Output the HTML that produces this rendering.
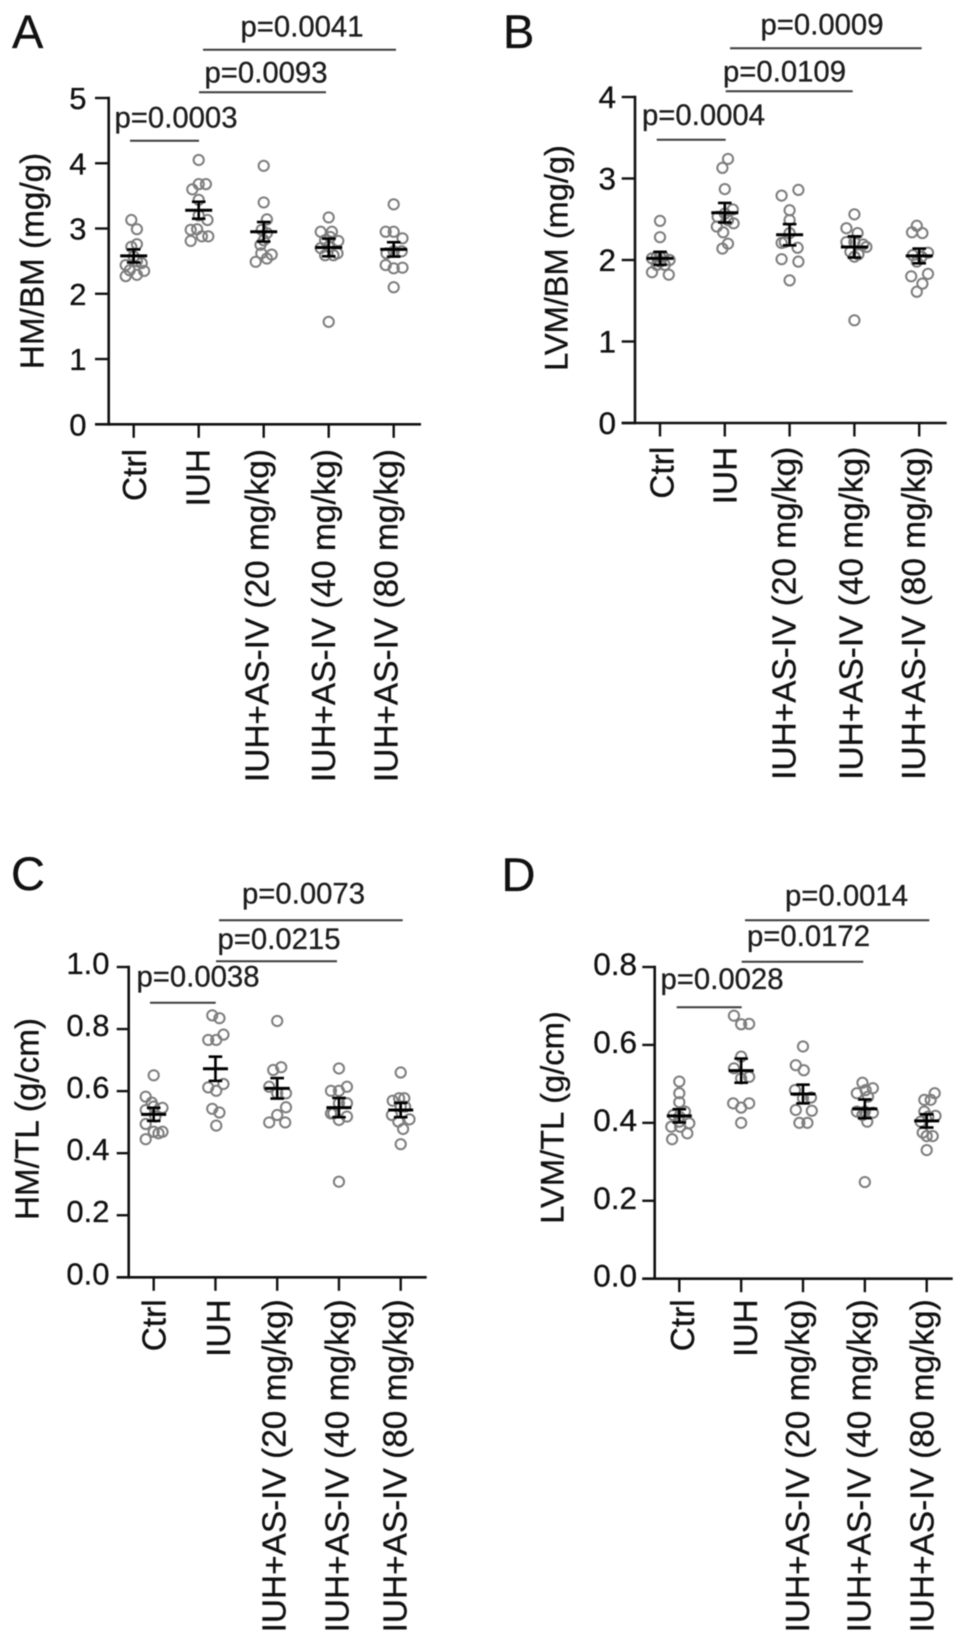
<!DOCTYPE html>
<html lang="en">
<head>
<meta charset="utf-8">
<title>Heart mass ratios by treatment group</title>
<style>
html,body{margin:0;padding:0;background:#fff;width:969px;height:1642px;overflow:hidden}
svg{display:block;filter:blur(0.55px)}
text{font-family:"Liberation Sans",Arial,sans-serif;fill:#111;stroke:#111;stroke-width:.3px}
.letter{font-size:47px}
.ytitle{font-size:33.3px;text-anchor:middle}
.p{font-size:29.3px;fill:#1c1c1c;stroke:#1c1c1c}
.br{stroke:#3c3c3c;stroke-width:2;fill:none}
.cat{font-size:33.4px;text-anchor:end}
.tick{text-anchor:end}
</style>
</head>
<body>
<svg id="figure" width="969" height="1642" viewBox="0 0 969 1642" xmlns="http://www.w3.org/2000/svg">
  <rect width="969" height="1642" fill="#fff"/>

  <g id="panel-a">
    <text class="letter" x="12" y="48">A</text>
    <text class="ytitle" transform="translate(43.5,261) rotate(-90)">HM/BM (mg/g)</text>
    <text class="p" x="114.5" y="127.5">p=0.0003</text>
    <line class="br" x1="130" x2="199" y1="140.7" y2="140.7"/>
    <text class="p" x="204.5" y="82.7">p=0.0093</text>
    <line class="br" x1="199" x2="326" y1="92.3" y2="92.3"/>
    <text class="p" x="240.5" y="36.7">p=0.0041</text>
    <line class="br" x1="203" x2="396" y1="49.7" y2="49.7"/>
  </g>

  <g id="panel-b">
    <text class="letter" x="503" y="48">B</text>
    <text class="ytitle" style="font-size:32.6px" transform="translate(567.3,258) rotate(-90)">LVM/BM (mg/g)</text>
    <text class="p" x="642" y="125">p=0.0004</text>
    <line class="br" x1="656.7" x2="725.7" y1="139.7" y2="139.7"/>
    <text class="p" x="723" y="81.7">p=0.0109</text>
    <line class="br" x1="725.7" x2="852.7" y1="91.3" y2="91.3"/>
    <text class="p" x="760.5" y="34.3">p=0.0009</text>
    <line class="br" x1="730" x2="921.7" y1="48.3" y2="48.3"/>
  </g>

  <g id="panel-c">
    <text class="letter" x="11" y="890">C</text>
    <text class="ytitle" transform="translate(38.3,1119) rotate(-90)">HM/TL (g/cm)</text>
    <text class="p" x="136.5" y="986.7">p=0.0038</text>
    <line class="br" x1="150" x2="215.7" y1="1002.7" y2="1002.7"/>
    <text class="p" x="217.5" y="949">p=0.0215</text>
    <line class="br" x1="216" x2="337" y1="961.3" y2="961.3"/>
    <text class="p" x="242" y="903.3">p=0.0073</text>
    <line class="br" x1="219" x2="402.7" y1="920.3" y2="920.3"/>
  </g>

  <g id="panel-d">
    <text class="letter" x="501.5" y="891">D</text>
    <text class="ytitle" style="font-size:32.7px" transform="translate(563.3,1117.5) rotate(-90)">LVM/TL (g/cm)</text>
    <text class="p" x="660.5" y="989">p=0.0028</text>
    <line class="br" x1="676.7" x2="741.7" y1="1007.3" y2="1007.3"/>
    <text class="p" x="747" y="946">p=0.0172</text>
    <line class="br" x1="741.7" x2="863.3" y1="961.7" y2="961.7"/>
    <text class="p" x="785" y="905.7">p=0.0014</text>
    <line class="br" x1="745" x2="929.3" y1="920.3" y2="920.3"/>
  </g>
</svg>

<script>
// ---------- data ----------
const categories = ["Ctrl", "IUH", "IUH+AS-IV (20 mg/kg)", "IUH+AS-IV (40 mg/kg)", "IUH+AS-IV (80 mg/kg)"];

const panelATicks = [0, 1, 2, 3, 4, 5];
const panelAMeans = [2.58, 3.28, 2.95, 2.71, 2.68];
const panelASems = [0.10, 0.13, 0.15, 0.135, 0.11];
const panelAValues = [
  [3.13, 2.99, 2.76, 2.72, 2.57, 2.50, 2.47, 2.44, 2.36, 2.35, 2.29, 2.27],
  [4.05, 3.68, 3.68, 3.60, 3.44, 3.20, 3.13, 2.99, 2.98, 2.88, 2.88, 2.81],
  [3.96, 3.40, 3.14, 2.98, 2.93, 2.82, 2.75, 2.62, 2.60, 2.54, 2.49],
  [3.17, 2.95, 2.95, 2.87, 2.82, 2.81, 2.72, 2.70, 2.62, 2.59, 2.59, 1.57],
  [3.37, 2.95, 2.95, 2.85, 2.65, 2.65, 2.62, 2.44, 2.40, 2.39, 2.10]
];
const panelASwarm = [
  [-.3, .4, .4, -.3, 0, .4, 1, -1, -.5, 1.3, .4, -1],
  [0, .9, 0, -.8, 0, 0, 1.1, -.2, -1, .4, 1.2, -1],
  [0, 0, .4, -.25, .4, 0, -.4, -.3, 1, .4, -1],
  [0, -1, .4, .2, -.45, 1.2, 0, -1, 1.1, -.45, .6, 0],
  [0, -1, 0, 1.1, 0, 1, -.9, -1, 1.1, 0, 0]
];

const panelBTicks = [0, 1, 2, 3, 4];
const panelBMeans = [2.02, 2.58, 2.31, 2.16, 2.05];
const panelBSems = [0.08, 0.12, 0.13, 0.13, 0.09];
const panelBValues = [
  [2.48, 2.28, 2.04, 2.04, 2.04, 2.02, 2.00, 1.98, 1.94, 1.94, 1.85, 1.82],
  [3.24, 3.13, 2.87, 2.62, 2.57, 2.53, 2.49, 2.45, 2.41, 2.34, 2.20, 2.14],
  [2.86, 2.79, 2.61, 2.49, 2.33, 2.22, 2.21, 2.15, 2.01, 1.98, 1.75],
  [2.56, 2.39, 2.33, 2.22, 2.22, 2.19, 2.16, 2.10, 2.07, 2.04, 1.26],
  [2.42, 2.34, 2.33, 2.09, 2.06, 2.04, 1.98, 1.83, 1.80, 1.71, 1.61]
];
const panelBSwarm = [
  [0, 0, -.4, .4, 0, -1, 1.2, 0, -.4, .6, -1, 1.1],
  [.4, -.3, 0, 1, 0, -.9, .4, 1.1, -1, -.2, .4, -.3],
  [1.1, -1, 0, 0, 0, -.6, -1, 1, -1, 1.1, 0],
  [0, -1, .4, -1, 0, 1.1, 1.5, -.5, .5, 0, 0],
  [-.3, -.9, .4, 1.1, -.8, .3, -.3, 1.1, -1, .4, -.3]
];

const panelCTicks = [0, 0.2, 0.4, 0.6, 0.8, 1.0];
const panelCMeans = [0.525, 0.672, 0.609, 0.547, 0.539];
const panelCSems = [0.021, 0.039, 0.033, 0.031, 0.023];
const panelCValues = [
  [0.651, 0.582, 0.563, 0.550, 0.546, 0.539, 0.518, 0.494, 0.469, 0.469, 0.464, 0.445],
  [0.844, 0.835, 0.782, 0.765, 0.765, 0.623, 0.612, 0.601, 0.543, 0.531, 0.489],
  [0.826, 0.677, 0.668, 0.614, 0.593, 0.593, 0.548, 0.523, 0.499, 0.499],
  [0.673, 0.614, 0.601, 0.601, 0.561, 0.561, 0.528, 0.528, 0.518, 0.507, 0.308],
  [0.660, 0.577, 0.577, 0.569, 0.550, 0.550, 0.523, 0.509, 0.502, 0.478, 0.429]
];
const panelCSwarm = [
  [0, -1, -.25, 0, 1.1, -1, .2, -1, 0, 1.1, .6, -1],
  [-.4, .5, 1, -.9, .1, 1, -.9, .1, -.4, .5, .1],
  [0, .5, -.5, -1, 0, 1.1, 1.1, 0, -1, 1],
  [0, 1, -1, 0, 1, 0, -1, -.7, 1, 0, 0],
  [0, -.2, .45, -1, 0, .55, -1.1, 1.1, -.3, .3, 0]
];

const panelDTicks = [0, 0.2, 0.4, 0.6, 0.8];
const panelDMeans = [0.418, 0.534, 0.474, 0.436, 0.405];
const panelDSems = [0.017, 0.031, 0.024, 0.024, 0.017];
const panelDValues = [
  [0.506, 0.476, 0.453, 0.429, 0.420, 0.416, 0.403, 0.399, 0.390, 0.390, 0.373, 0.358],
  [0.675, 0.654, 0.653, 0.570, 0.540, 0.518, 0.514, 0.450, 0.450, 0.439, 0.400],
  [0.596, 0.548, 0.535, 0.484, 0.465, 0.463, 0.433, 0.431, 0.400, 0.400],
  [0.503, 0.489, 0.484, 0.476, 0.467, 0.429, 0.429, 0.426, 0.420, 0.403, 0.248],
  [0.476, 0.459, 0.459, 0.429, 0.418, 0.416, 0.403, 0.375, 0.366, 0.366, 0.330]
];
const panelDSwarm = [
  [0, 0, 0, .7, -.75, 0, 0, 1.25, -1, .1, 1, -.9],
  [-.9, 1, 0, 0, -.9, 1, 0, -1, 1, 0, 0],
  [0, -.9, .1, -1, 1, 0, -.9, 1.1, -.45, .55],
  [-.3, 1, .1, -1, .4, -1, 0, 1, -.3, .3, 0],
  [1, -.3, .5, -.3, 1.1, .2, -.75, -.5, 0, .75, 0]
];

// ---------- rendering ----------
const NS = "http://www.w3.org/2000/svg";
const SWARM_UNIT = 8;

function make(tag, attrs, parent) {
  const el = document.createElementNS(NS, tag);
  for (const k in attrs) el.setAttribute(k, attrs[k]);
  parent.appendChild(el);
  return el;
}

function drawPanel(cfg) {
  const root = document.getElementById(cfg.id);
  const key = cfg.id;
  const yMax = cfg.ticks[cfg.ticks.length - 1];
  const yScale = v => cfg.y0 - (v / yMax) * (cfg.y0 - cfg.yTop);
  const xScale = i => cfg.x0 + i * cfg.step;

  // y axis
  const yAxis = make("line", {x1: cfg.axisX, x2: cfg.axisX, y1: yScale(yMax) - 1.3, y2: cfg.y0 + 1.3, stroke: "#111", "stroke-width": 2.6}, root);
  
  

  cfg.ticks.forEach(t => {
    const y = yScale(t);
    const tk = make("line", {x1: cfg.tickLeft, x2: cfg.axisX, y1: y, y2: y, stroke: "#111", "stroke-width": 2.4}, root);
    
    
    const lb = make("text", {class: "tick", x: cfg.tickLabelRight, y: y + cfg.tickBaseline, "font-size": cfg.tickFont}, root);
    lb.textContent = t.toFixed(cfg.decimals);
    
    
  });

  // x axis
  const xAxis = make("line", {x1: cfg.tickLeft, x2: cfg.axisEnd, y1: cfg.y0, y2: cfg.y0, stroke: "#111", "stroke-width": 2.6}, root);
  
  

  categories.forEach((c, i) => {
    const x = xScale(i);
    const tk = make("line", {x1: x, x2: x, y1: cfg.y0, y2: cfg.y0 + 13.5, stroke: "#111", "stroke-width": 2.4}, root);
    
    
    const lb = make("text", {class: "cat", transform: "translate(" + (x + cfg.catNudge[i]) + "," + cfg.catTop + ") rotate(-90)"}, root);
    lb.textContent = c;
    
    
  });

  // dots
  cfg.values.forEach((group, i) => {
    group.forEach((v, j) => {
      const dot = make("circle", {cx: xScale(i) + cfg.swarm[i][j] * SWARM_UNIT, cy: yScale(v), r: 5.1, fill: "none", stroke: "#7d7d7d", "stroke-width": 2}, root);
      
      
    });
  });

  // mean and SEM
  cfg.means.forEach((m, i) => {
    const x = xScale(i), s = cfg.sems[i];
    const mean = make("line", {x1: x - cfg.meanHalf, x2: x + cfg.meanHalf, y1: yScale(m), y2: yScale(m), stroke: "#000", "stroke-width": 3}, root);
    
    
    const stem = make("line", {x1: x, x2: x, y1: yScale(m + s), y2: yScale(m - s), stroke: "#000", "stroke-width": 2.6}, root);
    
    
    const capHi = make("line", {x1: x - 6.8, x2: x + 6.8, y1: yScale(m + s), y2: yScale(m + s), stroke: "#000", "stroke-width": 2.6}, root);
    
    
    const capLo = make("line", {x1: x - 6.8, x2: x + 6.8, y1: yScale(m - s), y2: yScale(m - s), stroke: "#000", "stroke-width": 2.6}, root);
    
    
  });
}

drawPanel({id: "panel-a", ticks: panelATicks, decimals: 0, values: panelAValues, swarm: panelASwarm, means: panelAMeans, sems: panelASems,
  axisX: 108.7, yTop: 98, y0: 424.3, tickLeft: 95, axisEnd: 421, x0: 133.7, step: 65, tickLabelRight: 86.5, tickBaseline: 11, tickFont: 31,
  catTop: 449, catNudge: [12.3, 10.7, 4.6, 6.3, 3.6], meanHalf: 13.5});
drawPanel({id: "panel-b", ticks: panelBTicks, decimals: 0, values: panelBValues, swarm: panelBSwarm, means: panelBMeans, sems: panelBSems,
  axisX: 635, yTop: 97, y0: 423, tickLeft: 621.7, axisEnd: 946.7, x0: 660, step: 64.8, tickLabelRight: 616, tickBaseline: 11, tickFont: 31.5,
  catTop: 446.7, catNudge: [13.3, 11.7, 5.7, 8, 5.7], meanHalf: 13.5});
drawPanel({id: "panel-c", ticks: panelCTicks, decimals: 1, values: panelCValues, swarm: panelCSwarm, means: panelCMeans, sems: panelCSems,
  axisX: 128.7, yTop: 967, y0: 1277.3, tickLeft: 116.7, axisEnd: 426.7, x0: 153.7, step: 61.75, tickLabelRight: 109.5, tickBaseline: 7, tickFont: 31,
  catTop: 1299.3, catNudge: [12, 14.7, 8.4, 9.3, 6], meanHalf: 12.5});
drawPanel({id: "panel-d", ticks: panelDTicks, decimals: 1, values: panelDValues, swarm: panelDSwarm, means: panelDMeans, sems: panelDSems,
  axisX: 654.7, yTop: 967, y0: 1278.7, tickLeft: 642.3, axisEnd: 952.7, x0: 679.3, step: 61.85, tickLabelRight: 637, tickBaseline: 8, tickFont: 31.5,
  catTop: 1299.3, catNudge: [14.7, 16, 6, 5.7, 6.6], meanHalf: 12.5});
</script>
</body>
</html>
